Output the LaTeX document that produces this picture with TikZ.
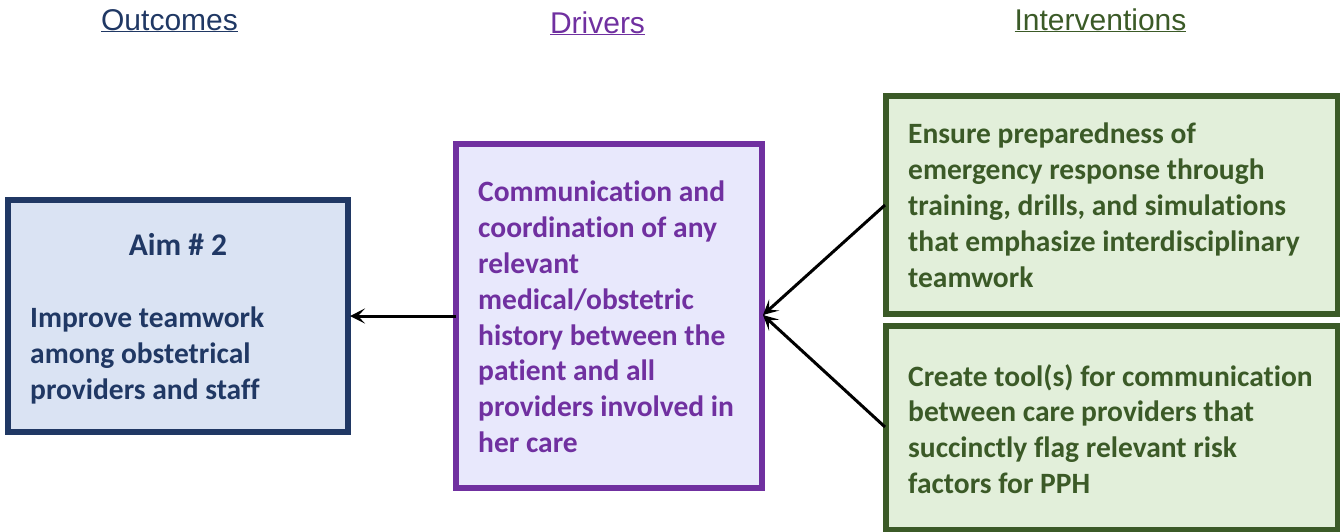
\documentclass[tikz,border=0pt]{standalone}
\usepackage{fontspec}
\setmainfont{Carlito}[Ligatures=NoCommon]
\newfontfamily\headfont{Liberation Sans}
\usetikzlibrary{arrows.meta}
\definecolor{navy}{HTML}{203864}
\definecolor{navyfill}{HTML}{DAE3F3}
\definecolor{purp}{HTML}{7030A0}
\definecolor{purpfill}{HTML}{E8E8FC}
\definecolor{grn}{HTML}{3B5A27}
\definecolor{grnfill}{HTML}{E2EFDA}
\tikzset{
  boxline/.style={line width=6pt},
  head/.style={font=\headfont\fontsize{30}{34}\selectfont, inner sep=0pt, anchor=base},
  body/.style={font=\bfseries\fontsize{29.5}{35.8}\selectfont, inner sep=0pt, align=left, anchor=north west},
  conn/.style={line width=3pt, -{Stealth[length=15pt,width=15pt,inset=7pt]}},
}
\begin{document}
\begin{tikzpicture}[x=1pt,y=-1pt]
\useasboundingbox (0,0) rectangle (1340,531);
% headings
\node[head, text=navy] (hOut) at (169.5,30) {\underline{Outcomes}};
\node[head, text=purp] (hDrv) at (597.5,33) {\underline{Drivers}};
\node[head, text=grn] (hInt) at (1100.5,30) {\underline{Interventions}};
% boxes
\draw[boxline, draw=navy, fill=navyfill] (8,199.5) rectangle (347.5,431.5);
\coordinate (outR) at (350,316);
\draw[boxline, draw=purp, fill=purpfill] (456,144) rectangle (762,488);
\coordinate (drvL) at (456,316);
\coordinate (drvR) at (763,315);
\draw[boxline, draw=grn, fill=grnfill] (886,96) rectangle (1337.5,313.5);
\coordinate (int1L) at (885,205);
\draw[boxline, draw=grn, fill=grnfill] (886,326) rectangle (1337.5,530);
\coordinate (int2L) at (885,427);
% texts
\node[body, text=navy, anchor=base, font=\bfseries\fontsize{31.5}{36}\selectfont] (aim) at (178,255) {Aim \# 2};
\node[body, text=navy] (outTxt) at (30,307) {Improve teamwork\\among obstetrical\\providers and staff};
\node[body, text=purp] (drvTxt) at (478,181) {Communication and\\coordination of any\\relevant\\medical/obstetric\\history between the\\patient and all\\providers involved in\\her care};
\node[body, text=grn] (int1Txt) at (908,123) {Ensure preparedness of\\emergency response through\\training, drills, and simulations\\that emphasize interdisciplinary\\teamwork};
\node[body, text=grn] (int2Txt) at (908,364) {Create tool(s) for communication\\between care providers that\\succinctly flag relevant risk\\factors for PPH};
% connectors
\draw[conn] (drvL) -- (outR);
\draw[conn] (int1L) -- (drvR);
\draw[conn] (int2L) -- (drvR);
\end{tikzpicture}
\end{document}
